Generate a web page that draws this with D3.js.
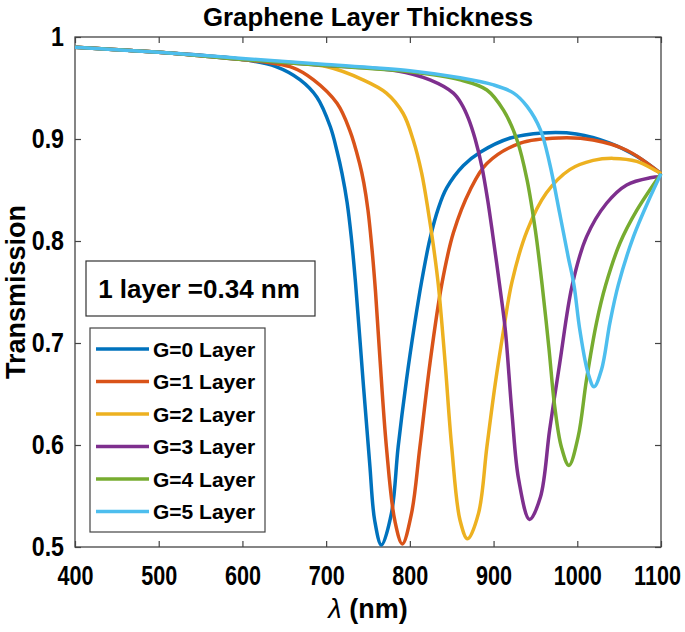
<!DOCTYPE html>
<html>
<head>
<meta charset="utf-8">
<script src="https://cdn.jsdelivr.net/npm/d3@7"></script>
<style>
  body { margin: 0; background: #fff; }
  text { font-family: "Liberation Sans", Arial, sans-serif; font-weight: bold; fill: #000; }
</style>
</head>
<body>
<script>
// values
let xTicks = [400, 500, 600, 700, 800, 900, 1000, 1100];
let yTicks = [0.5, 0.6, 0.7, 0.8, 0.9, 1];
let names = ["G=0 Layer", "G=1 Layer", "G=2 Layer", "G=3 Layer", "G=4 Layer", "G=5 Layer"];
let colors = ["#0072BD", "#D95319", "#EDB120", "#7E2F8E", "#77AC30", "#4DBEEE"];

let lam0 = [400, 500, 600, 640, 669, 689, 705, 713, 719, 725, 730, 735, 744, 752, 758, 766, 778, 786, 796, 806, 814, 824, 834, 844, 864, 884, 920, 959, 999, 1039, 1071, 1100];
let g0   = [0.990, 0.985, 0.978, 0.971, 0.958, 0.941, 0.912, 0.888, 0.866, 0.838, 0.804, 0.760, 0.664, 0.582, 0.526, 0.502, 0.533, 0.598, 0.664, 0.720, 0.760, 0.802, 0.832, 0.852, 0.874, 0.887, 0.901, 0.906, 0.905, 0.896, 0.883, 0.866];

let lam1 = [400, 500, 600, 660, 685, 713, 728, 740, 745, 750, 755, 759, 764, 772, 782, 791, 802, 812, 824, 838, 852, 872, 892, 932, 979, 1019, 1059, 1100];
let g1   = [0.990, 0.985, 0.978, 0.970, 0.958, 0.935, 0.909, 0.876, 0.857, 0.830, 0.790, 0.750, 0.688, 0.598, 0.526, 0.503, 0.533, 0.598, 0.680, 0.757, 0.808, 0.850, 0.876, 0.896, 0.901, 0.899, 0.889, 0.866];

let lam2 = [400, 500, 600, 700, 744, 772, 792, 804, 814, 822, 828, 834, 842, 850, 860, 869, 882, 892, 902, 912, 922, 940, 963, 991, 1019, 1043, 1071, 1100];
let g2   = [0.990, 0.985, 0.978, 0.971, 0.958, 0.945, 0.925, 0.899, 0.867, 0.829, 0.796, 0.757, 0.682, 0.598, 0.526, 0.508, 0.533, 0.598, 0.660, 0.713, 0.760, 0.810, 0.847, 0.870, 0.879, 0.881, 0.878, 0.866];

let lam3 = [400, 500, 600, 700, 784, 824, 852, 862, 870, 878, 886, 893, 899, 908, 914, 922, 930, 943, 956, 967, 979, 994, 1011, 1035, 1059, 1087, 1100];
let g3   = [0.990, 0.985, 0.978, 0.972, 0.967, 0.958, 0.945, 0.934, 0.920, 0.900, 0.873, 0.840, 0.806, 0.752, 0.713, 0.631, 0.566, 0.527, 0.549, 0.615, 0.680, 0.757, 0.804, 0.837, 0.855, 0.862, 0.863];

let lam4 = [400, 500, 600, 700, 800, 860, 892, 912, 928, 940, 950, 958, 966, 973, 981, 990, 1001, 1011, 1023, 1034, 1051, 1071, 1100];
let g4   = [0.990, 0.985, 0.978, 0.972, 0.966, 0.958, 0.948, 0.928, 0.899, 0.860, 0.810, 0.757, 0.696, 0.638, 0.598, 0.580, 0.608, 0.664, 0.720, 0.757, 0.798, 0.830, 0.866];

let lam5 = [400, 500, 600, 700, 800, 860, 900, 924, 940, 956, 967, 979, 989, 996, 1003, 1013, 1020, 1029, 1039, 1049, 1067, 1087, 1100];
let g5   = [0.990, 0.985, 0.979, 0.973, 0.967, 0.960, 0.953, 0.945, 0.932, 0.909, 0.876, 0.827, 0.785, 0.757, 0.713, 0.670, 0.657, 0.674, 0.720, 0.757, 0.804, 0.843, 0.866];

let lams = [lam0, lam1, lam2, lam3, lam4, lam5];
let gs = [g0, g1, g2, g3, g4, g5];

let W = 685, H = 632;
let mLeft = 75, mRight = 661, mTop = 37, mBottom = 547;

let svg = d3.select('body')
      .append('svg')
      .attr('width', W)
      .attr('height', H);

let x = d3.scaleLinear().domain([400, 1100]).range([mLeft, mRight]);
let y = d3.scaleLinear().domain([0.5, 1]).range([mBottom, mTop]);

// squeeze bold text a little, the original font is narrower than Liberation
function condense(sel, k) {
  sel.each(function() {
    let l = this.getComputedTextLength();
    d3.select(this).attr('textLength', l * k).attr('lengthAdjust', 'spacingAndGlyphs');
  });
}

// axes with inward ticks, box on all four sides
let axisColor = "#444";
function styleAxis(g, k) {
  g.select('.domain').remove();
  g.selectAll('.tick line').attr('stroke', axisColor).attr('stroke-width', 1.2);
  g.selectAll('.tick text').style('font-size', '27px').attr('fill', '#262626').call(condense, k);
}

let xAx = svg.append('g')
  .attr('transform', `translate(0,${mBottom})`)
  .call(d3.axisBottom(x).tickValues(xTicks).tickSize(-6).tickPadding(19).tickFormat(d3.format('d')))
  .call(styleAxis, 0.8);
// last label sits against the page edge
xAx.selectAll('.tick text').filter(d => d === 1100).attr('x', -4);

svg.append('g')
  .attr('transform', `translate(0,${mTop})`)
  .call(d3.axisTop(x).tickValues(xTicks).tickSize(-6).tickFormat(''))
  .call(styleAxis, 1);
svg.append('g')
  .attr('transform', `translate(${mLeft},0)`)
  .call(d3.axisLeft(y).tickValues(yTicks).tickSize(-6).tickPadding(11).tickFormat(d => d === 1 ? '1' : d3.format('.1f')(d)))
  .call(styleAxis, 0.86);
svg.append('g')
  .attr('transform', `translate(${mRight},0)`)
  .call(d3.axisRight(y).tickValues(yTicks).tickSize(-6).tickFormat(''))
  .call(styleAxis, 1);

svg.append('rect')
  .attr('x', mLeft).attr('y', mTop)
  .attr('width', mRight - mLeft).attr('height', mBottom - mTop)
  .attr('fill', 'none').attr('stroke', axisColor).attr('stroke-width', 1.3);

// curves
let lineDrawer = d3.line()
      .x(d => x(d[0]))
      .y(d => y(d[1]))
      .curve(d3.curveCatmullRom.alpha(0.5));

gs.forEach((g, i) => {
  let pts = lams[i].map((l, j) => [l, g[j]]);
  svg.append('path')
    .style('fill', 'none')
    .style('stroke', colors[i])
    .style('stroke-width', 3.5)
    .style('stroke-linejoin', 'round')
    .attr('d', lineDrawer(pts));
});

// title and axis labels
svg.append('text')
  .attr('x', (mLeft + mRight) / 2).attr('y', 26)
  .attr('text-anchor', 'middle')
  .style('font-size', '26px')
  .attr('textLength', 330).attr('lengthAdjust', 'spacingAndGlyphs')
  .text('Graphene Layer Thickness');

let xl = svg.append('text')
  .attr('x', (mLeft + mRight) / 2).attr('y', 618)
  .attr('text-anchor', 'middle')
  .style('font-size', '27px');
xl.append('tspan').style('font-style', 'italic').style('font-weight', 'normal').text('λ');
xl.append('tspan').text(' (nm)');

svg.append('text')
  .attr('transform', `translate(25,${(mTop + mBottom) / 2}) rotate(-90)`)
  .attr('text-anchor', 'middle')
  .style('font-size', '27px')
  .text('Transmission');

// annotation box
svg.append('rect')
  .attr('x', 86).attr('y', 261).attr('width', 229).attr('height', 55)
  .attr('fill', '#fff').attr('stroke', '#333').attr('stroke-width', 1.2);
svg.append('text')
  .attr('x', 199).attr('y', 298)
  .attr('text-anchor', 'middle')
  .style('font-size', '26px')
  .text('1 layer =0.34 nm');

// legend
let lg = svg.append('g');
lg.append('rect')
  .attr('x', 90).attr('y', 328).attr('width', 175).attr('height', 204)
  .attr('fill', '#fff').attr('stroke', '#444').attr('stroke-width', 1.2);
names.forEach((n, i) => {
  let yy = 349 + i * 32.5;
  lg.append('line')
    .attr('x1', 96).attr('x2', 149).attr('y1', yy).attr('y2', yy)
    .attr('stroke', colors[i]).attr('stroke-width', 3.5);
  lg.append('text')
    .attr('x', 153).attr('y', yy + 7.5)
    .style('font-size', '21px')
    .text(n);
});
</script>
</body>
</html>
